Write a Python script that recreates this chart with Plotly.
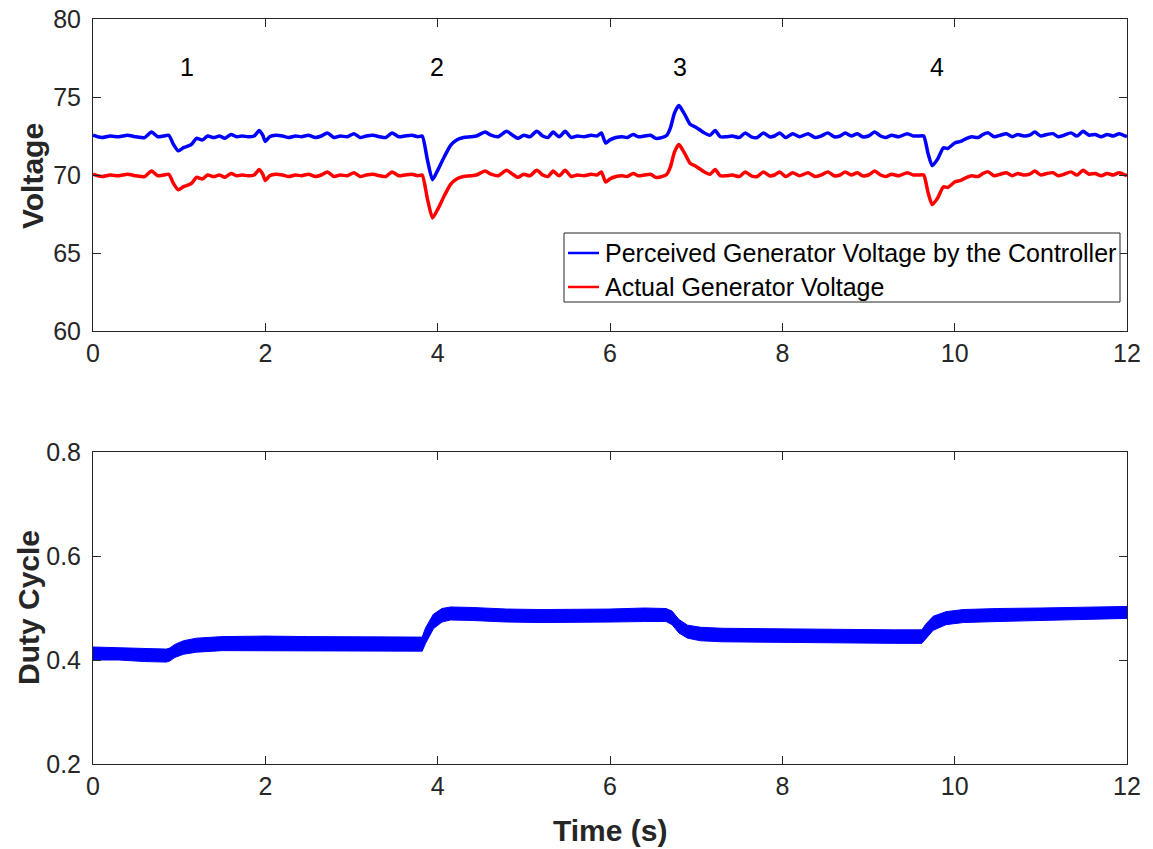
import plotly.graph_objects as go

# ---------------- data ----------------
t_v = [
    0.00, 0.10, 0.20, 0.30, 0.40, 0.50, 0.60, 0.68, 0.75, 0.82, 0.88, 0.93, 0.99, 1.05, 1.10, 1.15, 1.20, 1.27, 1.33, 1.40,
    1.47, 1.53, 1.60, 1.67, 1.73, 1.80, 1.87, 1.93, 1.97, 2.00, 2.05, 2.12, 2.20, 2.27, 2.35, 2.42, 2.50, 2.58, 2.65, 2.72,
    2.80, 2.87, 2.95, 3.03, 3.10, 3.17, 3.25, 3.33, 3.40, 3.47, 3.55, 3.62, 3.70, 3.77, 3.82, 3.88, 3.94, 4.00, 4.08, 4.15,
    4.22, 4.30, 4.38, 4.45, 4.55, 4.62, 4.70, 4.80, 4.87, 4.93, 5.00, 5.07, 5.15, 5.22, 5.28, 5.34, 5.41, 5.48, 5.55, 5.62,
    5.70, 5.78, 5.85, 5.90, 5.95, 6.00, 6.07, 6.14, 6.20, 6.27, 6.33, 6.40, 6.47, 6.53, 6.60, 6.66, 6.70, 6.75, 6.80, 6.87,
    6.93, 7.00, 7.08, 7.16, 7.22, 7.28, 7.35, 7.42, 7.50, 7.57, 7.64, 7.71, 7.78, 7.85, 7.91, 7.97, 8.04, 8.12, 8.20, 8.30,
    8.38, 8.45, 8.53, 8.60, 8.67, 8.73, 8.80, 8.87, 8.93, 9.00, 9.07, 9.14, 9.20, 9.27, 9.35, 9.45, 9.52, 9.58, 9.64, 9.69,
    9.74, 9.80, 9.87, 9.92, 10.00, 10.07, 10.14, 10.20, 10.27, 10.33, 10.39, 10.46, 10.53, 10.60, 10.67, 10.73, 10.80, 10.87, 10.93, 11.00,
    11.07, 11.14, 11.20, 11.27, 11.35, 11.42, 11.49, 11.56, 11.63, 11.70, 11.77, 11.84, 11.91, 12.00,
]

v_perceived = [
    72.55, 72.40, 72.50, 72.45, 72.55, 72.45, 72.40, 72.75, 72.45, 72.50, 72.55, 72.00, 71.55, 71.75, 71.85, 72.00, 72.35, 72.25, 72.50, 72.40,
    72.50, 72.35, 72.60, 72.45, 72.50, 72.45, 72.50, 72.85, 72.55, 72.15, 72.45, 72.55, 72.50, 72.40, 72.50, 72.45, 72.55, 72.40, 72.50, 72.70,
    72.40, 72.50, 72.45, 72.65, 72.40, 72.50, 72.55, 72.45, 72.40, 72.70, 72.45, 72.50, 72.55, 72.45, 72.50, 71.00, 69.70, 70.30, 71.20, 71.90,
    72.25, 72.40, 72.45, 72.50, 72.75, 72.55, 72.45, 72.80, 72.55, 72.35, 72.55, 72.45, 72.80, 72.50, 72.40, 72.75, 72.45, 72.80, 72.40, 72.50,
    72.45, 72.55, 72.50, 72.70, 72.05, 72.25, 72.40, 72.45, 72.40, 72.60, 72.45, 72.50, 72.55, 72.35, 72.40, 72.55, 73.00, 74.00, 74.45, 73.85,
    73.25, 73.05, 72.75, 72.55, 72.85, 72.45, 72.45, 72.50, 72.40, 72.70, 72.45, 72.40, 72.70, 72.45, 72.50, 72.70, 72.40, 72.65, 72.45, 72.65,
    72.40, 72.50, 72.70, 72.45, 72.50, 72.70, 72.50, 72.65, 72.45, 72.50, 72.75, 72.50, 72.40, 72.55, 72.45, 72.65, 72.50, 72.50, 72.50, 71.40,
    70.60, 71.00, 71.75, 71.70, 72.05, 72.15, 72.35, 72.45, 72.40, 72.60, 72.70, 72.45, 72.55, 72.65, 72.45, 72.60, 72.50, 72.55, 72.75, 72.50,
    72.60, 72.65, 72.45, 72.55, 72.70, 72.50, 72.80, 72.55, 72.60, 72.45, 72.60, 72.50, 72.65, 72.45,
]

v_actual = [
    70.05, 69.90, 70.00, 69.95, 70.05, 69.95, 69.90, 70.25, 69.95, 70.00, 70.05, 69.50, 69.05, 69.25, 69.35, 69.50, 69.85, 69.75, 70.00, 69.90,
    70.00, 69.85, 70.10, 69.95, 70.00, 69.95, 70.00, 70.35, 70.05, 69.65, 69.95, 70.05, 70.00, 69.90, 70.00, 69.95, 70.05, 69.90, 70.00, 70.20,
    69.90, 70.00, 69.95, 70.15, 69.90, 70.00, 70.05, 69.95, 69.90, 70.20, 69.95, 70.00, 70.05, 69.95, 70.00, 68.50, 67.25, 67.80, 68.70, 69.40,
    69.75, 69.90, 69.95, 70.00, 70.25, 70.05, 69.95, 70.30, 70.05, 69.85, 70.05, 69.95, 70.30, 70.00, 69.90, 70.25, 69.95, 70.30, 69.90, 70.00,
    69.95, 70.05, 70.00, 70.20, 69.55, 69.75, 69.90, 69.95, 69.90, 70.10, 69.95, 70.00, 70.05, 69.85, 69.90, 70.05, 70.50, 71.50, 71.95, 71.35,
    70.75, 70.55, 70.25, 70.05, 70.35, 69.95, 69.95, 70.00, 69.90, 70.20, 69.95, 69.90, 70.20, 69.95, 70.00, 70.20, 69.90, 70.15, 69.95, 70.15,
    69.90, 70.00, 70.20, 69.95, 70.00, 70.20, 70.00, 70.15, 69.95, 70.00, 70.25, 70.00, 69.90, 70.05, 69.95, 70.15, 70.00, 70.00, 70.00, 68.90,
    68.10, 68.50, 69.25, 69.20, 69.55, 69.65, 69.85, 69.95, 69.90, 70.10, 70.20, 69.95, 70.05, 70.15, 69.95, 70.10, 70.00, 70.05, 70.25, 70.00,
    70.10, 70.15, 69.95, 70.05, 70.20, 70.00, 70.30, 70.05, 70.10, 69.95, 70.10, 70.00, 70.15, 69.95,
]

t_d = [0.0, 0.3, 0.6, 0.85, 0.89, 0.95, 1.05, 1.2, 1.5, 2.0, 2.5, 3.0, 3.5, 3.82, 3.86, 3.95, 4.05, 4.15,
       4.4, 4.8, 5.2, 5.6, 6.0, 6.4, 6.65, 6.72, 6.8, 6.9, 7.05, 7.3, 7.8, 8.3, 8.8, 9.3, 9.62, 9.66,
       9.75, 9.9, 10.1, 10.5, 11.0, 11.5, 12.0]
duty_upper = [0.425, 0.424, 0.422, 0.421, 0.423, 0.430, 0.437, 0.442, 0.445, 0.446, 0.445, 0.445, 0.444, 0.444,
              0.462, 0.488, 0.499, 0.502, 0.501, 0.498, 0.497, 0.497, 0.498, 0.500, 0.499, 0.494, 0.478, 0.467,
              0.463, 0.461, 0.460, 0.459, 0.459, 0.458, 0.458, 0.468, 0.484, 0.493, 0.497, 0.499, 0.500, 0.502, 0.503]
duty_lower = [0.400, 0.400, 0.397, 0.396, 0.398, 0.405, 0.411, 0.415, 0.418, 0.418, 0.418, 0.417, 0.417, 0.417,
              0.432, 0.460, 0.473, 0.477, 0.476, 0.473, 0.472, 0.472, 0.473, 0.474, 0.474, 0.468, 0.452, 0.442,
              0.437, 0.435, 0.434, 0.433, 0.433, 0.432, 0.432, 0.440, 0.457, 0.468, 0.472, 0.474, 0.476, 0.478, 0.480]

series_names = ["Perceived Generator Voltage by the Controller", "Actual Generator Voltage"]

event_labels = ["1", "2", "3", "4"]
event_x = [1.09, 3.99, 6.81, 9.79]
event_y = [76.9, 76.9, 76.9, 76.9]

x_ticks = [0, 2, 4, 6, 8, 10, 12]
v_ticks = [60, 65, 70, 75, 80]
d_ticks = [0.2, 0.4, 0.6, 0.8]
d_ticktext = ["0.2", "0.4", "0.6", "0.8"]

# ---------------- figure ----------------
FONT = "Liberation Sans, Arial, Helvetica, sans-serif"
AX = "#262626"
BLUE = "rgb(0,0,255)"
RED = "rgb(255,0,0)"

W, H = 1153, 849
ML, MR, MT, MB = 93, 26, 19, 85
PW, PH = W - ML - MR, H - MT - MB


def px(xp):
    return (xp - ML) / PW


def py(yp):
    return (H - MB - yp) / PH


fig = go.Figure()
fig.add_trace(go.Scatter(x=t_v, y=v_perceived, mode="lines",
                         line=dict(color=BLUE, width=3.5, shape="spline", smoothing=0.6),
                         name=series_names[0], showlegend=False, xaxis="x", yaxis="y"))
fig.add_trace(go.Scatter(x=t_v, y=v_actual, mode="lines",
                         line=dict(color=RED, width=3.5, shape="spline", smoothing=0.6),
                         name=series_names[1], showlegend=False, xaxis="x", yaxis="y"))
fig.add_trace(go.Scatter(x=t_d, y=duty_lower, mode="lines", line=dict(color=BLUE, width=1),
                         showlegend=False, xaxis="x2", yaxis="y2"))
fig.add_trace(go.Scatter(x=t_d, y=duty_upper, mode="lines", line=dict(color=BLUE, width=1),
                         fill="tonexty", fillcolor=BLUE, showlegend=False, xaxis="x2", yaxis="y2"))

axis_common = dict(showline=True, linecolor=AX, linewidth=1, mirror="ticks", ticks="inside",
                   ticklen=8, tickcolor=AX, tickwidth=1, showgrid=False, zeroline=False,
                   tickfont=dict(family=FONT, size=25, color=AX))

fig.update_layout(
    width=W, height=H,
    margin=dict(l=ML, r=MR, t=MT, b=MB, autoexpand=False),
    paper_bgcolor="white", plot_bgcolor="white",
    font=dict(family=FONT, color="black"),
    showlegend=False,
    xaxis=dict(domain=[0, 1], range=[0, 12], tickvals=x_ticks, anchor="y", **axis_common),
    yaxis=dict(domain=[py(331), 1], range=[60, 80], tickvals=v_ticks, anchor="x",
               ticklabelstandoff=6, **axis_common),
    xaxis2=dict(domain=[0, 1], range=[0, 12], tickvals=x_ticks, anchor="y2", **axis_common),
    yaxis2=dict(domain=[0, py(452)], range=[0.2, 0.8], tickvals=d_ticks, ticktext=d_ticktext,
                anchor="x2", ticklabelstandoff=6, **axis_common),
)

# legend box (MATLAB style)
fig.add_shape(type="rect", xref="paper", yref="paper", x0=px(564), x1=px(1120), y0=py(302), y1=py(233),
              line=dict(color=AX, width=1), fillcolor="white", layer="above")
for name, col, rowy in zip(series_names, [BLUE, RED], [253, 287]):
    fig.add_shape(type="line", xref="paper", yref="paper", x0=px(568), x1=px(599), y0=py(rowy), y1=py(rowy),
                  line=dict(color=col, width=2.5), layer="above")
    fig.add_annotation(x=px(603), y=py(rowy), xref="paper", yref="paper", text=name, showarrow=False,
                       xanchor="left", yanchor="middle",
                       font=dict(family=FONT, size=25, color="black"))

for lab, ex, ey in zip(event_labels, event_x, event_y):
    fig.add_annotation(x=ex, y=ey, xref="x", yref="y", text=lab, showarrow=False,
                       xanchor="center", yanchor="middle",
                       font=dict(family=FONT, size=25, color="black"))

fig.add_annotation(x=px(32), y=py(176), xref="paper", yref="paper",
                   text="Voltage", textangle=-90, showarrow=False, xanchor="center", yanchor="middle",
                   font=dict(family=FONT, size=30, color=AX, weight="bold"))
fig.add_annotation(x=px(28), y=py(608), xref="paper", yref="paper",
                   text="Duty Cycle", textangle=-90, showarrow=False, xanchor="center", yanchor="middle",
                   font=dict(family=FONT, size=30, color=AX, weight="bold"))
fig.add_annotation(x=0.5, y=py(830), xref="paper", yref="paper",
                   text="Time (s)", showarrow=False, xanchor="center", yanchor="middle",
                   font=dict(family=FONT, size=30, color=AX, weight="bold"))

fig.write_html("out.html")
